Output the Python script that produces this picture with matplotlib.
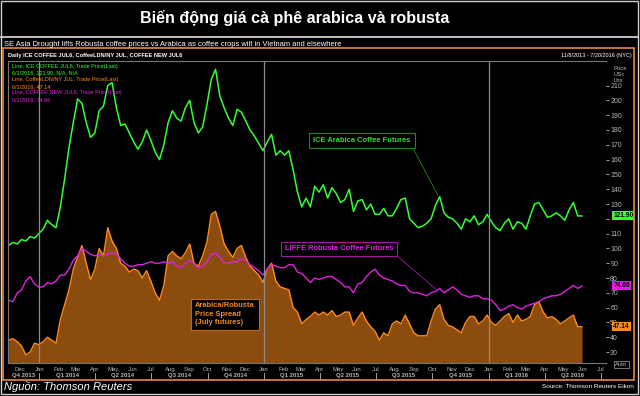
import matplotlib
matplotlib.use('Agg')
import matplotlib.pyplot as plt
import matplotlib.transforms as mtransforms
from matplotlib.patches import Rectangle
from matplotlib.lines import Line2D
import pandas as pd

plt.rcParams['font.family'] = ['Liberation Sans', 'DejaVu Sans']

# weekly prices in US cents/lb
first_week = '2013-11-12'

arabica = [102, 104, 103, 106, 105, 108, 107, 110, 113, 119,
           116, 114, 128, 147, 168, 185, 201, 198, 185, 175,
           178, 193, 196, 210, 212, 195, 183, 184, 178, 172,
           167, 172, 180, 173, 165, 160, 170, 185, 193, 188,
           186, 195, 200, 185, 178, 182, 197, 214, 221, 203,
           195, 188, 183, 194, 192, 186, 180, 176, 171, 166,
           172, 177, 163, 166, 163, 166, 153, 138, 128, 134,
           128, 142, 138, 143, 134, 141, 137, 131, 133, 140,
           125, 132, 133, 126, 130, 123, 123, 127, 122, 122,
           127, 133, 134, 120, 117, 114, 115, 117, 120, 129,
           135, 124, 121, 120, 117, 113, 120, 118, 122, 116,
           118, 123, 118, 114, 112, 117, 120, 113, 118, 117,
           113, 122, 130, 131, 126, 121, 122, 124, 122, 119,
           126, 131, 122, 121.90]

robusta = [65, 64, 70, 72, 78, 81, 76, 74, 74, 77,
           76, 78, 82, 82, 86, 92, 95, 100, 98, 96,
           95, 96, 95, 96, 97, 96, 93, 90, 88, 88,
           89, 89, 90, 91, 90, 90, 91, 90, 91, 88,
           87, 90, 92, 90, 87, 88, 91, 96, 97, 94,
           90, 90, 91, 91, 93, 92, 89, 87, 85, 82,
           86, 89, 88, 87, 87, 89, 89, 84, 83, 80,
           77, 80, 79, 80, 81, 81, 79, 77, 74, 74,
           70, 76, 77, 81, 84, 86, 82, 80, 79, 78,
           76, 75, 75, 71, 70, 70, 69, 68, 70, 71,
           73, 70, 72, 74, 72, 69, 68, 67, 68, 68,
           66, 66, 65, 62, 58, 59, 61, 62, 60, 59,
           61, 62, 63, 64, 66, 67, 68, 68, 69, 71,
           73, 75, 73, 74.66]

spread = [38, 39, 37, 34, 28, 30, 36, 35, 37, 40,
          38, 36, 52, 62, 72, 86, 94, 102, 90, 79,
          86, 100, 95, 114, 105, 100, 90, 88, 84, 86,
          85, 80, 85, 78, 70, 65, 75, 95, 98, 95,
          93, 97, 103, 90, 88, 95, 104, 123, 125, 115,
          103, 98, 94, 100, 102, 94, 88, 85, 82, 77,
          86, 90, 78, 74, 73, 72, 60, 57, 49, 52,
          54, 57, 55, 57, 55, 58, 54, 55, 57, 57,
          48, 53, 57, 51, 47, 44, 38, 43, 41, 49,
          51, 49, 55, 49, 43, 41, 41, 41, 51, 59,
          62, 52, 48, 47, 45, 43, 50, 54, 54, 49,
          51, 55, 50, 48, 51, 54, 56, 50, 55, 51,
          52, 54, 62, 64, 57, 53, 54, 52, 49, 51,
          53, 55, 47, 47.14]

dates = pd.date_range(first_week, periods=len(arabica), freq='7D')
last_day = '6/1/2016'

green = '#33ff33'
magenta = '#e020e0'
orange = '#ff8c1a'
brown = '#8c4c0e'
grey = '#b8b8b8'

W, H = 640, 396
fig = plt.figure(figsize=(W / 100, H / 100), dpi=100, facecolor='black')


def fx(px):
    return px / W


def fy(py):
    return 1 - py / H


# frames
fig.add_artist(Rectangle((fx(1), fy(394)), fx(637), 393 / H, transform=fig.transFigure,
                         fill=False, ec='#d0d0d0', lw=1))
fig.add_artist(Line2D([fx(1), fx(638)], [fy(37), fy(37)], transform=fig.transFigure, color='#e0e0e0', lw=1.2))
fig.add_artist(Rectangle((fx(3), fy(380)), fx(631), 332 / H, transform=fig.transFigure,
                         fill=False, ec='#e8893a', lw=1.2))

fig.text(fx(295), fy(18), 'Biến động giá cà phê arabica và robusta', color='white',
         fontsize=11.6, fontweight='bold', ha='center', va='center')
fig.text(fx(4), fy(44), 'SE Asia Drought lifts Robusta coffee prices vs Arabica as coffee crops wilt in Vietnam and elsewhere',
         color='white', fontsize=5.4, ha='left', va='center')
fig.text(fx(8), fy(55.5), 'Daily ICE COFFEE JUL6, CoffeeLDN/NY JUL, COFFEE NEW JUL6', color='white',
         fontsize=4.1, fontweight='bold', ha='left', va='center')
fig.text(fx(632), fy(55.5), '11/8/2013 - 7/20/2016 (NYC)', color='white', fontsize=4.0, ha='right', va='center')
fig.text(fx(4), fy(387), 'Nguồn: Thomson Reuters', color='white', fontsize=8, style='italic',
         ha='left', va='center')
fig.text(fx(634), fy(387), 'Source: Thomson Reuters Eikon', color='white', fontsize=4.6, ha='right', va='center')

ax = fig.add_axes([fx(8), fy(363), fx(598), 302 / H], facecolor='black')
ax.fill_between(dates, spread, 0, color=brown, lw=0)
ax.plot(dates, spread, color=orange, lw=1)
ax.plot(dates, robusta, color=magenta, lw=1)
ax.plot(dates, arabica, color=green, lw=1.1)

x0, x1 = pd.Timestamp('2013-11-11'), pd.Timestamp('2016-07-09')
ax.set_xlim(x0, x1)
ax.set_ylim(22.6, 226.6)

for yr in ['2014-01-01', '2015-01-01', '2016-01-01']:
    ax.axvline(pd.Timestamp(yr), color='#8a8a8a', lw=0.9)

ax.spines['right'].set_visible(False)
for s in ['top', 'bottom', 'left']:
    ax.spines[s].set_color('#777777')
    ax.spines[s].set_linewidth(0.8)

# right price scale (120 sits under the arabica badge)
price_ticks = list(range(30, 211, 10))
ax.yaxis.tick_right()
ax.set_yticks(price_ticks)
ax.set_yticklabels(['' if t == 120 else str(t) for t in price_ticks])
ax.tick_params(axis='y', colors=grey, labelsize=5, length=2, pad=1, width=0.6)
ax.text(1.012, 0.985, 'Price\nUSc\nLbs', transform=ax.transAxes, color=grey, fontsize=4.2,
        ha='left', va='top', linespacing=1.25)
ax.text(1.015, -0.005, 'Auto', transform=ax.transAxes, color=grey, fontsize=4.2, ha='left', va='center',
        bbox=dict(boxstyle='square,pad=0.25', fc='black', ec='#888888', lw=0.6))

# last value badges
bt_y = mtransforms.blended_transform_factory(ax.transAxes, ax.transData)
for vals, col in [(arabica, green), (robusta, magenta), (spread, orange)]:
    ax.text(1.012, vals[-1], f'{vals[-1]:.2f}', transform=bt_y, zorder=5,
            color='black', fontsize=4.8, fontweight='bold', ha='left', va='center',
            bbox=dict(boxstyle='square,pad=0.15', fc=col, ec='none'))

# time axis: months and quarters
ax.set_xticks([])
bt = mtransforms.blended_transform_factory(ax.transData, ax.transAxes)
months = pd.date_range('2013-12-01', '2016-07-01', freq='MS')
for m in months:
    ax.text(m, -0.021, m.strftime('%b'), transform=bt, color=grey, fontsize=4.3, ha='center', va='center')
quarters = pd.date_range('2013-10-01', '2016-04-01', freq='QS')
for q in quarters:
    q_end = q + pd.offsets.QuarterBegin(startingMonth=1)
    a, b = max(q, x0), min(q_end, x1)
    mid = a + (b - a) / 2
    ax.text(mid, -0.042, f'Q{q.quarter} {q.year}', transform=bt, color=grey, fontsize=4.3,
            fontweight='bold', ha='center', va='center')
    if q_end <= x1:
        ax.plot([q_end, q_end], [-0.032, -0.052], transform=bt, color=grey, lw=0.6, clip_on=False)

# top-left legend block
legend_lines = [
    ('Line, ICE COFFEE JUL6, Trade Price(Last)', green),
    (f'{last_day}, {arabica[-1]:.2f}, N/A, N/A', green),
    ('Line, CoffeeLDN/NY JUL, Trade Price(Last)', orange),
    (f'{last_day}, {spread[-1]:.2f}', orange),
    ('Line, COFFEE NEW JUL6, Trade Price(Last)', magenta),
    (f'{last_day}, {robusta[-1]:.2f}', magenta),
]
for i, (txt, col) in enumerate(legend_lines):
    fig.text(fx(12), fy(66.5 + i * 6.6), txt, color=col, fontsize=4.0, ha='left', va='center')

# callouts
ax.annotate('ICE Arabica Coffee Futures', xy=(pd.Timestamp('2015-10-10'), 136),
            xytext=((362 - 8) / 598, (363 - 140.5) / 302), textcoords='axes fraction',
            color='#33dd33', fontsize=5.4, fontweight='bold', ha='center', va='center',
            bbox=dict(boxstyle='square,pad=0.55', fc='black', ec='#1c8a1c', lw=0.8),
            arrowprops=dict(arrowstyle='-', color='#1c8a1c', lw=0.6, shrinkA=0, shrinkB=0,
                            relpos=(1, 0)))
ax.annotate('LIFFE Robusta Coffee Futures', xy=(pd.Timestamp('2015-10-08'), 72),
            xytext=((339 - 8) / 598, (363 - 249) / 302), textcoords='axes fraction',
            color=magenta, fontsize=5.4, fontweight='bold', ha='center', va='center',
            bbox=dict(boxstyle='square,pad=0.45', fc='black', ec='#a018a0', lw=0.8),
            arrowprops=dict(arrowstyle='-', color='#a018a0', lw=0.6, shrinkA=0, shrinkB=0,
                            relpos=(1, 0)))
ax.text((195 - 8) / 598, (363 - 314) / 302, 'Arabica/Robusta\nPrice Spread\n(July futures)',
        transform=ax.transAxes, color='#f08a24', fontsize=5.4, fontweight='bold', ha='left', va='center',
        linespacing=1.25, bbox=dict(boxstyle='square,pad=0.5', fc='black', ec='#c06a18', lw=0.8))

fig.savefig('out.png', dpi=100, facecolor='black')
